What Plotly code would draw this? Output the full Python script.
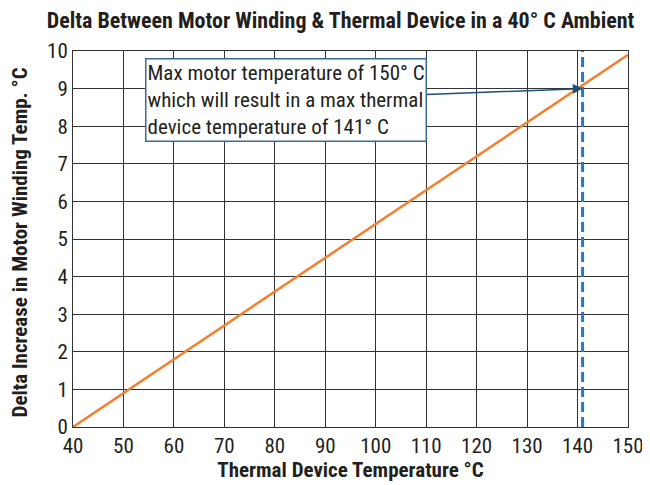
import plotly.graph_objects as go

# thermal device temp vs delta in motor winding temp
thermal_temp = [40, 150]
delta_temp = [0, 9.9]
max_thermal = 141
max_delta = 9
x_ticks = list(range(40, 151, 10))
y_ticks = list(range(0, 11))

font_narrow = "Liberation Sans Narrow, Arial Narrow, Roboto Condensed, Liberation Sans, sans-serif"
ink = "#231F20"

fig = go.Figure()
fig.add_trace(go.Scatter(x=thermal_temp, y=delta_temp, mode="lines",
                         line={"color": "#F47F2F", "width": 2.5}, showlegend=False))
fig.add_trace(go.Scatter(x=[max_thermal, max_thermal], y=[0, 10], mode="lines",
                         line={"color": "#2B78C2", "width": 3, "dash": "10px,5px"}, showlegend=False))

fig.add_annotation(x=max_thermal, y=max_delta, xref="x", yref="y",
                   ax=82.3, ay=8.7, axref="x", ayref="y",
                   text="Max motor temperature of 150° C<br>which will result in a max thermal<br>device temperature of 141° C",
                   align="left", showarrow=True, arrowhead=2, arrowsize=1.3, arrowwidth=1.5,
                   arrowcolor="#1D4F7E", bordercolor="#3A6A97", borderwidth=1.5, borderpad=1,
                   bgcolor="white", font={"family": font_narrow, "size": 21, "color": ink})

# y title as annotation so it can sit further left like the original
fig.add_annotation(x=-0.096, y=0.49, xref="paper", yref="paper", xanchor="center", yanchor="middle",
                   text="<b>Delta Increase in Motor Winding Temp. °C</b>", textangle=-90, showarrow=False,
                   font={"family": font_narrow, "size": 21, "color": ink})

# page body adds ~8px offset, so the figure is sized a bit smaller than the window
fig.update_layout(
    width=642, height=477,
    margin={"l": 65, "r": 22, "t": 43, "b": 58},
    paper_bgcolor="white", plot_bgcolor="white",
    title={"text": "<b>Delta Between Motor Winding & Thermal Device in a 40° C Ambient</b>",
           "x": 0.518, "xanchor": "center", "y": 0.974, "yanchor": "middle",
           "font": {"family": font_narrow, "size": 22, "color": ink}},
)
fig.update_xaxes(range=[40, 150], tickvals=x_ticks, showgrid=True, gridcolor="#333333", gridwidth=1,
                 showline=True, linecolor="#333333", mirror=True, zeroline=False, automargin=False,
                 tickfont={"family": font_narrow, "size": 21, "color": ink},
                 title={"text": "<b>Thermal Device Temperature °C</b>", "standoff": 4,
                        "font": {"family": font_narrow, "size": 21, "color": ink}})
fig.update_yaxes(range=[0, 10], tickvals=y_ticks, showgrid=True, gridcolor="#333333", gridwidth=1,
                 showline=True, linecolor="#333333", mirror=True, zeroline=False, automargin=False,
                 tickfont={"family": font_narrow, "size": 21, "color": ink})

fig.write_html("out.html")
